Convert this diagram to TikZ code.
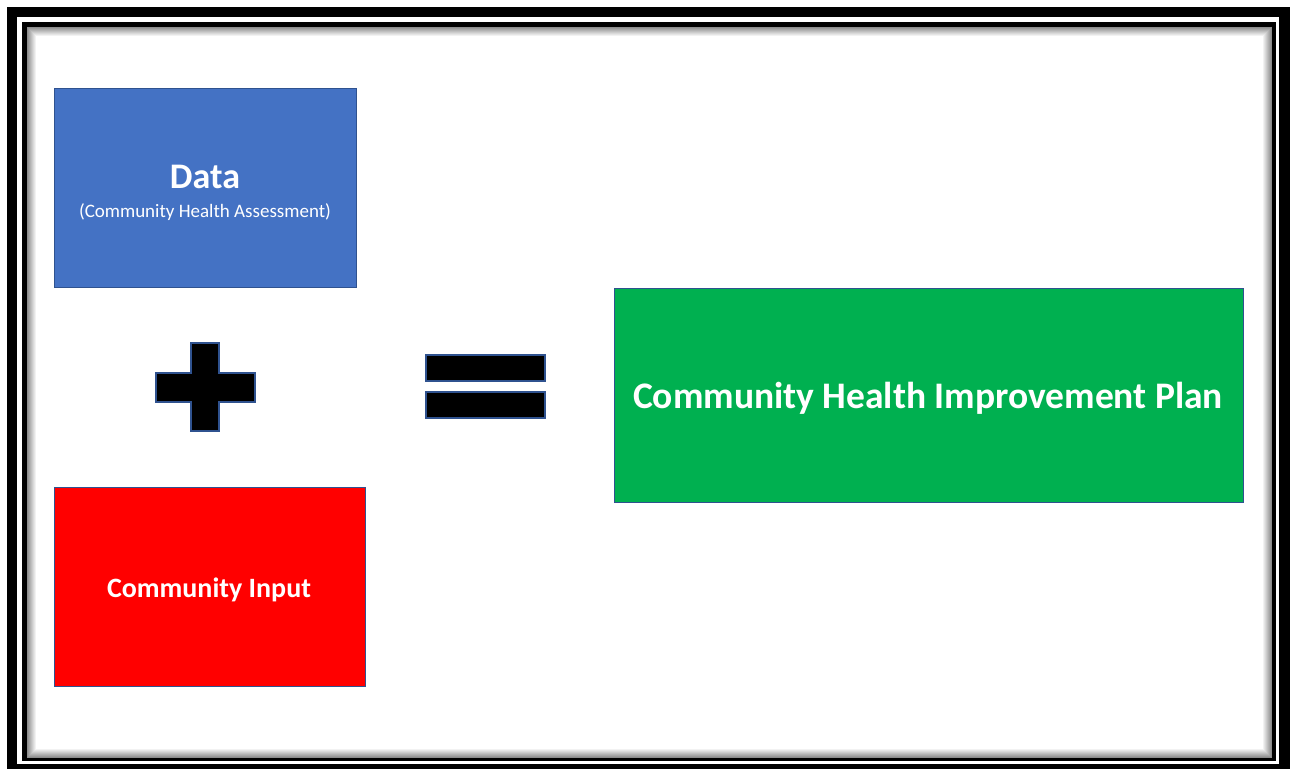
\documentclass[tikz,border=0pt]{standalone}
\usepackage{fontspec}
\setmainfont{Carlito}
\definecolor{dblue}{HTML}{4472C4}
\definecolor{dred}{HTML}{FF0000}
\definecolor{dgreen}{HTML}{00B050}
\definecolor{edgeblue}{HTML}{2F528F}
\tikzset{
  boxshape/.style={rectangle, draw=edgeblue, line width=1.3pt, inner sep=0pt, anchor=north west},
  symshape/.style={fill=black, draw=edgeblue, line width=1.3pt},
  lbl/.style={text=white, inner sep=0pt, anchor=base}
}
\begin{document}
\begin{tikzpicture}[x=1pt,y=-1pt]
\useasboundingbox (0,0) rectangle (1290,769);
\fill[white] (0,0) rectangle (1290,769);
% frame
\fill[black] (7,7) rectangle (1290,769);
\fill[white] (17,17) rectangle (1279,763.5);
\fill[black] (22,22) rectangle (1276,761);
\fill[white] (27,27) rectangle (1272,758);
\foreach \i in {0,...,8} {
  \pgfmathsetmacro\g{int(45-5*\i)}
  \draw[black!\g, line width=1pt] (27.5+\i,27.5+\i) rectangle (1271.5-\i,757.5-\i);
}
% boxes
\node[boxshape, fill=dblue, minimum width=302pt, minimum height=199pt] (data) at (54,88) {};
\node[boxshape, fill=dred, minimum width=311pt, minimum height=199pt] (input) at (54,487) {};
\node[boxshape, fill=dgreen, minimum width=629pt, minimum height=214pt] (chip) at (614,288) {};
% labels
\node[lbl, font=\fontsize{36}{40}\selectfont\bfseries] (datat) at (205,188) {Data};
\node[lbl, font=\fontsize{19}{22}\selectfont] (datas) at (205,217) {(Community Health Assessment)};
\node[lbl, font=\fontsize{28}{31}\selectfont\bfseries] (inputt) at (209,597) {Community Input};
\node[lbl, font=\fontsize{37.5}{40}\selectfont\bfseries] (chipt) at (928,408) {Community Health Improvement Plan};
% plus
\draw[symshape] (191,343) -- (219,343) -- (219,373) -- (255,373) -- (255,402) -- (219,402)
  -- (219,431) -- (191,431) -- (191,402) -- (156,402) -- (156,373) -- (191,373) -- cycle;
% equals
\draw[symshape] (426,355) rectangle (545,381);
\draw[symshape] (426,392) rectangle (545,418);
\end{tikzpicture}
\end{document}
